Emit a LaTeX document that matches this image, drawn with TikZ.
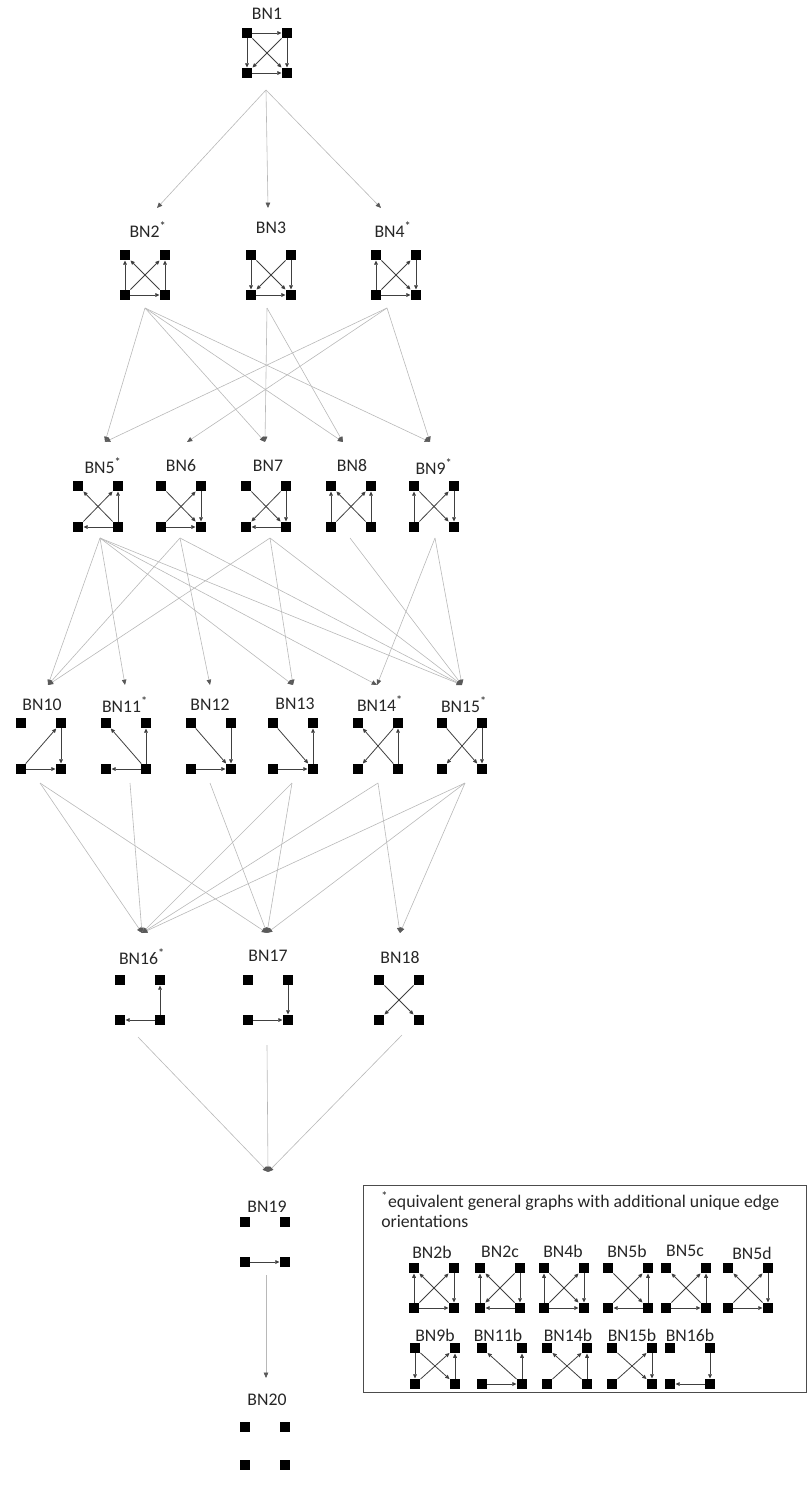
\documentclass[tikz,border=0pt]{standalone}
\usepackage{fontspec}
\setmainfont{Carlito}
\usetikzlibrary{arrows.meta}
\newcommand\bnnodes[4]{% name, cx, top y, bottom y
  \node[sq] (#1tl) at ({#2-20},#3) {};
  \node[sq] (#1tr) at ({#2+20},#3) {};
  \node[sq] (#1bl) at ({#2-20},#4) {};
  \node[sq] (#1br) at ({#2+20},#4) {};}
\newcommand\bnedges[2]{\foreach \a/\b in {#2} \draw[ge] (#1\a) -- (#1\b);}
\begin{document}
\begin{tikzpicture}[x=0.75pt,y=-0.75pt,
  sq/.style={fill=black,draw=none,minimum size=8.2pt,inner sep=0pt,outer sep=0pt},
  ge/.style={draw=black!75,line width=0.6pt,-{Triangle[length=3.2pt,width=2.8pt]}},
  conn/.style={draw=black!28,line width=0.45pt,-{Triangle[length=4pt,width=3.4pt,color=black!65]}},
  lbl/.style={font=\fontsize{13.3}{15}\selectfont,text=black!85,inner sep=0pt},
  legbox/.style={draw=black!70,line width=0.7pt}]
\useasboundingbox (0,0) rectangle (812,1485);
% ---------- labels
\node[lbl] (BN1) at (267,14) {BN1};
\node[lbl] (BN2) at (148,230) {BN2\textsuperscript{*}};
\node[lbl] (BN3) at (271,228) {BN3};
\node[lbl] (BN4) at (393,230) {BN4\textsuperscript{*}};
\node[lbl] (BN5) at (103,466) {BN5\textsuperscript{*}};
\node[lbl] (BN6) at (181,466) {BN6};
\node[lbl] (BN7) at (268,466) {BN7};
\node[lbl] (BN8) at (352,466) {BN8};
\node[lbl] (BN9) at (434,467) {BN9\textsuperscript{*}};
\node[lbl] (BN10) at (42,705) {BN10};
\node[lbl] (BN11) at (125,705) {BN11\textsuperscript{*}};
\node[lbl] (BN12) at (210,705) {BN12};
\node[lbl] (BN13) at (295,704) {BN13};
\node[lbl] (BN14) at (380,704) {BN14\textsuperscript{*}};
\node[lbl] (BN15) at (464,705) {BN15\textsuperscript{*}};
\node[lbl] (BN16) at (142,957) {BN16\textsuperscript{*}};
\node[lbl] (BN17) at (268,956) {BN17};
\node[lbl] (BN18) at (400,957) {BN18};
\node[lbl] (BN19) at (267,1207) {BN19};
\node[lbl] (BN20) at (267,1400) {BN20};
% ---------- glyphs
\bnnodes{g1}{267}{33}{73}
\bnedges{g1}{tl/tr,tl/bl,tr/br,bl/br,tl/br,tr/bl}
\bnnodes{g2}{145}{255}{295}
\bnedges{g2}{bl/tl,br/tr,bl/tr,br/tl,bl/br}
\bnnodes{g3}{271}{255}{295}
\bnedges{g3}{tl/bl,tr/br,tl/br,tr/bl,bl/br}
\bnnodes{g4}{396}{255}{295}
\bnedges{g4}{bl/tl,tr/br,bl/tr,tl/br,bl/br}
\bnnodes{g5}{98}{486}{527}
\bnedges{g5}{br/tl,bl/tr,br/tr,br/bl}
\bnnodes{g6}{181}{486}{527}
\bnedges{g6}{tl/br,bl/tr,tr/br,bl/br}
\bnnodes{g7}{266}{486}{527}
\bnedges{g7}{tl/br,tr/bl,tr/br,br/bl}
\bnnodes{g8}{351}{486}{527}
\bnedges{g8}{bl/tl,br/tr,bl/tr,br/tl}
\bnnodes{g9}{434}{486}{527}
\bnedges{g9}{bl/tl,tr/br,bl/tr,tl/br}
\bnnodes{g10}{41}{723}{769}
\bnedges{g10}{bl/tr,tr/br,bl/br}
\bnnodes{g11}{126}{723}{769}
\bnedges{g11}{br/tl,br/tr,br/bl}
\bnnodes{g12}{211}{723}{769}
\bnedges{g12}{tl/br,tr/br,bl/br}
\bnnodes{g13}{293}{723}{769}
\bnedges{g13}{tl/br,br/tr,bl/br}
\bnnodes{g14}{378}{723}{769}
\bnedges{g14}{br/tl,tr/bl,br/tr}
\bnnodes{g15}{462}{723}{769}
\bnedges{g15}{tl/br,tr/bl,tr/br}
\bnnodes{g16}{140}{980}{1020}
\bnedges{g16}{br/tr,br/bl}
\bnnodes{g17}{268}{980}{1020}
\bnedges{g17}{tr/br,bl/br}
\bnnodes{g18}{399}{980}{1020}
\bnedges{g18}{tl/br,tr/bl}
\bnnodes{g19}{265}{1222}{1262}
\bnedges{g19}{bl/br}
\bnnodes{g20}{265}{1427}{1465}
% ---------- connector ends
\coordinate (o1) at (266,90);
\coordinate (i2) at (157,208); \coordinate (i3) at (268,208); \coordinate (i4) at (381,208);
\coordinate (o2) at (145,308); \coordinate (o3) at (267,308); \coordinate (o4) at (387,308);
\coordinate (i5) at (105,442); \coordinate (i6) at (187,442); \coordinate (i7) at (265,442);
\coordinate (i8) at (343,442); \coordinate (i9) at (430,442);
\coordinate (o5) at (100,538); \coordinate (o6) at (180,538); \coordinate (o7) at (270,538);
\coordinate (o8) at (350,538); \coordinate (o9) at (435,538);
\coordinate (i10) at (48,685); \coordinate (i11) at (125,685); \coordinate (i12) at (210,685);
\coordinate (i13) at (293,685); \coordinate (i14) at (377,685); \coordinate (i15) at (462,685);
\coordinate (o10) at (40,783); \coordinate (o11) at (130,783); \coordinate (o12) at (210,783);
\coordinate (o13) at (292,783); \coordinate (o14) at (378,783); \coordinate (o15) at (465,783);
\coordinate (i16) at (142,933); \coordinate (i17) at (267,933); \coordinate (i18) at (400,933);
\coordinate (o16) at (138,1037); \coordinate (o17) at (267,1045); \coordinate (o18) at (402,1035);
\coordinate (i19) at (268,1172); \coordinate (o19) at (266,1275); \coordinate (i20) at (266,1378);
% ---------- connectors
\foreach \s/\t in {1/2,1/3,1/4,
  2/5,2/7,2/8,2/9,3/7,3/8,4/5,4/6,4/9,
  5/10,5/11,5/13,5/14,5/15,6/10,6/12,6/15,7/10,7/13,7/15,8/15,9/14,9/15,
  10/16,10/17,11/16,12/17,13/16,13/17,14/16,14/18,15/16,15/17,15/18,
  16/19,17/19,18/19,19/20}
  \draw[conn] (o\s) -- (i\t);
% ---------- legend
\draw[legbox] (363,1185) rectangle (806,1392);
\node[lbl,anchor=west] (legA) at (381,1201) {\textsuperscript{*}equivalent general graphs with additional unique edge};
\node[lbl,anchor=west] (legB) at (381,1221) {orientations};
\node[lbl] (L2b) at (432,1252) {BN2b};
\node[lbl] (L2c) at (500,1252) {BN2c};
\node[lbl] (L4b) at (563,1251) {BN4b};
\node[lbl] (L5b) at (627,1251) {BN5b};
\node[lbl] (L5c) at (685,1251) {BN5c};
\node[lbl] (L5d) at (752,1253) {BN5d};
\node[lbl] (L9b) at (435,1335) {BN9b};
\node[lbl] (L11b) at (498,1335) {BN11b};
\node[lbl] (L14b) at (568,1335) {BN14b};
\node[lbl] (L15b) at (632,1335) {BN15b};
\node[lbl] (L16b) at (690,1335) {BN16b};
\bnnodes{h1}{434}{1268}{1308}
\bnedges{h1}{bl/tl,tr/br,bl/tr,br/tl,bl/br}
\bnnodes{h2}{500}{1268}{1308}
\bnedges{h2}{bl/tl,tr/br,tr/bl,br/tl,br/bl}
\bnnodes{h3}{564}{1268}{1308}
\bnedges{h3}{bl/tl,tr/br,bl/tr,tl/br,bl/br}
\bnnodes{h4}{628}{1268}{1308}
\bnedges{h4}{tl/br,bl/tr,br/tr,br/bl}
\bnnodes{h5}{686}{1268}{1308}
\bnedges{h5}{br/tl,bl/tr,br/tr,bl/br}
\bnnodes{h6}{748}{1268}{1308}
\bnedges{h6}{br/tl,bl/tr,tr/br,bl/br}
\bnnodes{h7}{435}{1348}{1384}
\bnedges{h7}{tl/bl,bl/tr,tl/br,br/tr}
\bnnodes{h8}{502}{1348}{1384}
\bnedges{h8}{br/tl,br/tr,bl/br}
\bnnodes{h9}{567}{1348}{1384}
\bnedges{h9}{br/tl,bl/tr,br/tr}
\bnnodes{h10}{632}{1348}{1384}
\bnedges{h10}{tl/br,bl/tr,tr/br}
\bnnodes{h11}{690}{1348}{1384}
\bnedges{h11}{tr/br,br/bl}
\end{tikzpicture}
\end{document}
